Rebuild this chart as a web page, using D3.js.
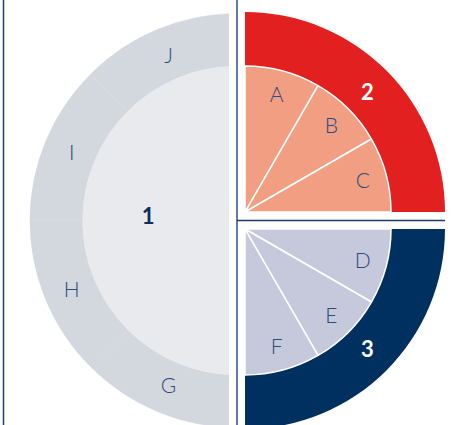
<!DOCTYPE html>
<html>
<head>
<meta charset="utf-8">
<script src="https://cdn.jsdelivr.net/npm/d3@7/dist/d3.min.js"></script>
<style>
  html, body { margin: 0; padding: 0; background: #ffffff; }
  svg { display: block; }
  text { font-family: "Lato", "Open Sans", "DejaVu Sans", sans-serif; }
</style>
</head>
<body>
<svg id="chart" width="454" height="425"></svg>
<script>
// ---- data ----
const groupLabels = ["1", "2", "3"];
const leftCategories = ["G", "H", "I", "J"];
const leftValues = [1, 1, 1, 1];
const topCategories = ["A", "B", "C"];
const topValues = [1, 1, 1];
const bottomCategories = ["D", "E", "F"];
const bottomValues = [1, 1, 1];

// ---- layout ----
const W = 454, H = 425;
const cx = 237, cy = 220.5;
const gap = 8;
const svg = d3.select("#chart");

const colors = {
  leftOuter: "#d3d8df", leftInner: "#e8eaee",
  topOuter: "#e2201f", topInner: "#f29e83",
  botOuter: "#00305f", botInner: "#c6c9dc",
  letter: "#2d4a7a", num: "#0c2f5c"
};

// frame line
svg.append("line").attr("x1", 3.5).attr("x2", 3.5).attr("y1", 0).attr("y2", H)
  .attr("stroke", "#1f3f6e").attr("stroke-width", 1.5);

// ---- left half ----
const defs = svg.append("defs");
defs.append("clipPath").attr("id", "leftClip").append("rect")
  .attr("x", 0).attr("y", 0).attr("width", cx - gap).attr("height", H);

const rLo = 207, rLi = 154.5;
const gClip = svg.append("g").attr("clip-path", "url(#leftClip)");
const gL = gClip.append("g").attr("transform", `translate(${cx},${cy})`);
const pieL = d3.pie().sort(null).startAngle(Math.PI).endAngle(2 * Math.PI);
const arcLo = d3.arc().innerRadius(rLi).outerRadius(rLo);
const arcLab = d3.arc().innerRadius(179).outerRadius(179);
const arcsL = pieL(leftValues);
gL.selectAll("path.lo").data(arcsL).join("path")
  .attr("class", "lo")
  .attr("d", arcLo).attr("fill", colors.leftOuter)
  .attr("stroke", colors.leftOuter).attr("stroke-width", 0.5);
gL.append("path")
  .attr("d", d3.arc().innerRadius(0).outerRadius(rLi).startAngle(Math.PI).endAngle(2 * Math.PI)())
  .attr("fill", colors.leftInner);
const gLt = svg.append("g").attr("transform", `translate(${cx},${cy})`);
gLt.selectAll("text.cat").data(arcsL).join("text")
  .attr("class", "cat")
  .attr("x", d => arcLab.centroid(d)[0]).attr("y", d => arcLab.centroid(d)[1])
  .attr("text-anchor", "middle").attr("dy", "0.36em")
  .attr("font-size", 21).attr("font-weight", 300).attr("fill", colors.letter)
  .text((d, i) => leftCategories[i]);
gLt.append("text")
  .attr("x", -rLi * 0.575).attr("y", -4).attr("dy", "0.36em")
  .attr("text-anchor", "middle").attr("font-size", 22).attr("font-weight", 700)
  .attr("fill", colors.num).text(groupLabels[0]);

// ---- right quadrants ----
const rRo = 200, rRi = 146, rLabR = 122;
function quadrant(ox, oy, start, end, values, cats, outerColor, innerColor, label) {
  const g = svg.append("g").attr("transform", `translate(${ox},${oy})`);
  const ring = d3.arc().innerRadius(rRi).outerRadius(rRo).startAngle(start).endAngle(end);
  g.append("path").attr("d", ring()).attr("fill", outerColor);
  const pie = d3.pie().sort(null).startAngle(start).endAngle(end);
  const arcs = pie(values);
  const arcI = d3.arc().innerRadius(0).outerRadius(rRi);
  const arcT = d3.arc().innerRadius(rLabR).outerRadius(rLabR);
  g.selectAll("path.w").data(arcs).join("path")
    .attr("class", "w")
    .attr("d", arcI).attr("fill", innerColor)
    .attr("stroke", "#ffffff").attr("stroke-width", 1.5).attr("stroke-linejoin", "round");
  g.selectAll("text.cat").data(arcs).join("text")
    .attr("class", "cat")
    .attr("x", d => arcT.centroid(d)[0]).attr("y", d => arcT.centroid(d)[1])
    .attr("dy", "0.36em").attr("text-anchor", "middle")
    .attr("font-size", 21).attr("font-weight", 300).attr("fill", colors.letter)
    .text((d, i) => cats[i]);
  const c = ring.centroid();
  g.append("text").attr("x", c[0]).attr("y", c[1] * 0.98).attr("dy", "0.36em")
    .attr("text-anchor", "middle").attr("font-size", 22).attr("font-weight", 700)
    .attr("fill", "#ffffff").text(label);
}
quadrant(cx + gap, cy - 8.5, 0, Math.PI / 2, topValues, topCategories,
  colors.topOuter, colors.topInner, groupLabels[1]);
quadrant(cx + gap, cy + 8.5, Math.PI / 2, Math.PI, bottomValues, bottomCategories,
  colors.botOuter, colors.botInner, groupLabels[2]);

// separators
svg.append("line").attr("x1", cx).attr("x2", cx).attr("y1", 0).attr("y2", H)
  .attr("stroke", "#4f6f95").attr("stroke-width", 1.8);
svg.append("line").attr("x1", cx).attr("x2", cx + gap + rRo).attr("y1", cy).attr("y2", cy)
  .attr("stroke", "#1d3a66").attr("stroke-width", 1.5);
</script>
</body>
</html>
